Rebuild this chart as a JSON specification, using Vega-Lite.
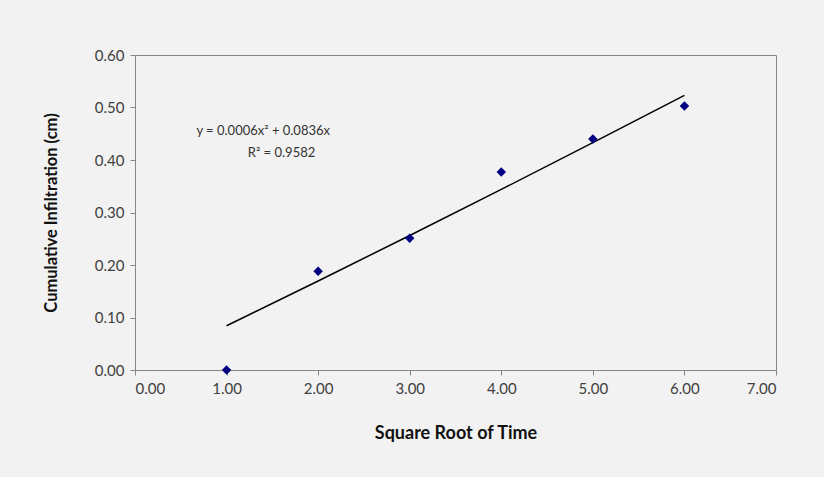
{
  "$schema": "https://vega.github.io/schema/vega-lite/v6.json",
  "autosize": "none",
  "width": 641,
  "height": 315,
  "padding": {"left": 135, "top": 55, "right": 48, "bottom": 107},
  "background": "#f2f2f2",
  "config": {
    "font": "Lato",
    "view": {"stroke": "#868686", "strokeWidth": 1},
    "axis": {
      "grid": false,
      "domainColor": "#868686",
      "tickColor": "#868686",
      "tickSize": 5,
      "labelFont": "Lato",
      "labelFontSize": 15,
      "labelColor": "#404040",
      "titleFont": "Lato",
      "titleFontWeight": "bold",
      "titleColor": "#111111"
    }
  },
  "datasets": {
    "obs": [
      {"x": 1, "y": 0.0},
      {"x": 2, "y": 0.188},
      {"x": 3, "y": 0.251},
      {"x": 4, "y": 0.377},
      {"x": 5, "y": 0.44},
      {"x": 6, "y": 0.503}
    ],
    "trend": [
      {"x": 1, "y": 0.0842},
      {"x": 2, "y": 0.1696},
      {"x": 3, "y": 0.2562},
      {"x": 4, "y": 0.344},
      {"x": 5, "y": 0.433},
      {"x": 6, "y": 0.5232}
    ],
    "notes": [
      {"x": 1.4, "y": 0.455, "label": "y = 0.0006x² + 0.0836x"},
      {"x": 1.6, "y": 0.413, "label": "R² = 0.9582"}
    ]
  },
  "layer": [
    {
      "data": {"name": "trend"},
      "mark": {"type": "line", "color": "#000000", "strokeWidth": 1.5},
      "encoding": {
        "x": {"field": "x", "type": "quantitative", "scale": {"domain": [0, 7]},
              "axis": {"values": [0,1,2,3,4,5,6,7], "format": ".2f", "title": "Square Root of Time", "titleFontSize": 18, "titlePadding": 28, "labelPadding": 6}},
        "y": {"field": "y", "type": "quantitative", "scale": {"domain": [0, 0.6]},
              "axis": {"values": [0,0.1,0.2,0.3,0.4,0.5,0.6], "format": ".2f", "title": "Cumulative Infiltration (cm)", "titleFontSize": 16.5, "titlePadding": 35, "labelPadding": 6}}
      }
    },
    {
      "data": {"name": "obs"},
      "mark": {"type": "point", "shape": "diamond", "filled": true, "color": "#000080", "opacity": 1, "size": 90},
      "encoding": {
        "x": {"field": "x", "type": "quantitative"},
        "y": {"field": "y", "type": "quantitative"}
      }
    },
    {
      "data": {"name": "notes"},
      "mark": {"type": "text", "font": "Lato", "fontSize": 13, "color": "#333333", "align": "center", "baseline": "middle"},
      "encoding": {
        "x": {"field": "x", "type": "quantitative"},
        "y": {"field": "y", "type": "quantitative"},
        "text": {"field": "label"}
      }
    }
  ]
}
